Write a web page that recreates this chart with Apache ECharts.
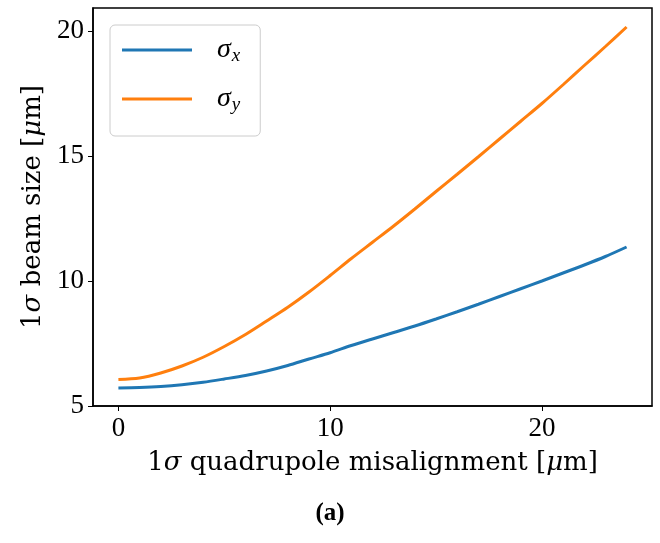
<!DOCTYPE html>
<html>
<head>
<meta charset="utf-8">
<script src="https://cdn.jsdelivr.net/npm/echarts@6/dist/echarts.min.js"></script>
<style>
  html, body { margin: 0; padding: 0; background: #fff; }
  #chart { width: 660px; height: 543px; }
</style>
</head>
<body>
<div id="chart"></div>
<script>
// Quadrupole misalignment (1 sigma, in micrometres)
const misalignment = [0, 1, 2, 3, 4, 5, 6, 7, 8, 9, 10, 11, 12, 13, 14, 15, 16, 17, 18, 19, 20, 21, 22, 23, 24];
// Resulting 1 sigma beam sizes (micrometres)
const sigmaX = [5.72, 5.74, 5.78, 5.85, 5.95, 6.08, 6.22, 6.40, 6.62, 6.88, 7.13, 7.42, 7.68, 7.94, 8.20, 8.48, 8.77, 9.07, 9.38, 9.69, 10.00, 10.32, 10.64, 10.98, 11.36];
const sigmaY = [6.06, 6.12, 6.32, 6.60, 6.95, 7.38, 7.86, 8.40, 8.95, 9.56, 10.22, 10.90, 11.55, 12.20, 12.88, 13.58, 14.27, 14.97, 15.68, 16.39, 17.10, 17.85, 18.62, 19.38, 20.16];
const xTicks = [0, 10, 20];
const yTicks = [5, 10, 15, 20];

const serif = '"Liberation Serif", "DejaVu Serif", serif';
const wide = '"DejaVu Serif", "Liberation Serif", serif';
const mathRich = {
  it: { fontFamily: serif, fontStyle: 'italic', fontSize: 28, color: '#000' },
  up: { fontFamily: serif, fontSize: 27, color: '#000' },
  sub: { fontFamily: serif, fontStyle: 'italic', fontSize: 19, color: '#000', verticalAlign: 'bottom', padding: [10, 0, 0, 1] },
  sp: { width: 20 }
};
const nameRich = {
  it: { fontFamily: wide, fontStyle: 'italic', fontSize: 26, color: '#000' },
  up: { fontFamily: wide, fontSize: 26, color: '#000' }
};

const chart = echarts.init(document.getElementById('chart'), null, { renderer: 'canvas' });
chart.setOption({
  animation: false,
  backgroundColor: '#fff',
  grid: {
    left: 93, top: 8, right: 8, bottom: 137,
    show: true, borderColor: '#000', borderWidth: 1.5, backgroundColor: 'transparent'
  },
  legend: {
    left: 110, top: 25,
    orient: 'vertical',
    padding: [10, 20, 22, 12],
    itemGap: 19,
    itemWidth: 70, itemHeight: 3,
    icon: 'rect',
    backgroundColor: 'rgba(255,255,255,0.8)',
    borderColor: '#cccccc', borderWidth: 1, borderRadius: 5,
    textStyle: { fontFamily: serif, fontSize: 27, color: '#000', lineHeight: 30, rich: mathRich },
    formatter: function (name) {
      return name === 'sx' ? '{sp|}{it|σ}{sub|x}' : '{sp|}{it|σ}{sub|y}';
    },
    data: ['sx', 'sy']
  },
  xAxis: {
    type: 'value',
    min: -1.2, max: 25.2,
    axisLine: { show: true, onZero: false, lineStyle: { color: '#000', width: 1.5 } },
    axisTick: { show: true, length: 5, lineStyle: { color: '#000', width: 1 }, customValues: xTicks },
    axisLabel: { customValues: xTicks, fontFamily: serif, fontSize: 27, color: '#000', margin: 9 },
    splitLine: { show: false },
    name: '{up|1}{it|σ}{up| quadrupole misalignment [}{it|μ}{up|m]}',
    nameLocation: 'middle',
    nameGap: 44,
    nameTextStyle: { rich: nameRich }
  },
  yAxis: {
    type: 'value',
    min: 5, max: 20.92,
    axisLine: { show: true, onZero: false, lineStyle: { color: '#000', width: 1.5 } },
    axisTick: { show: true, length: 5, lineStyle: { color: '#000', width: 1 }, customValues: yTicks },
    axisLabel: { customValues: yTicks, fontFamily: serif, fontSize: 27, color: '#000', margin: 9 },
    splitLine: { show: false },
    name: '{up|1}{it|σ}{up| beam size [}{it|μ}{up|m]}',
    nameLocation: 'middle',
    nameGap: 46,
    nameTextStyle: { rich: nameRich }
  },
  series: [
    {
      name: 'sx', type: 'line',
      data: misalignment.map((d, i) => [d, sigmaX[i]]),
      showSymbol: false, smooth: 0.3,
      lineStyle: { color: '#1f77b4', width: 3 },
      itemStyle: { color: '#1f77b4' }
    },
    {
      name: 'sy', type: 'line',
      data: misalignment.map((d, i) => [d, sigmaY[i]]),
      showSymbol: false, smooth: 0.3,
      lineStyle: { color: '#ff7f0e', width: 3 },
      itemStyle: { color: '#ff7f0e' }
    }
  ],
  graphic: [
    {
      type: 'text', left: 'center', top: 501,
      style: { text: '(a)', font: 'bold 25px ' + serif, fill: '#000' }
    }
  ]
});
</script>
</body>
</html>
